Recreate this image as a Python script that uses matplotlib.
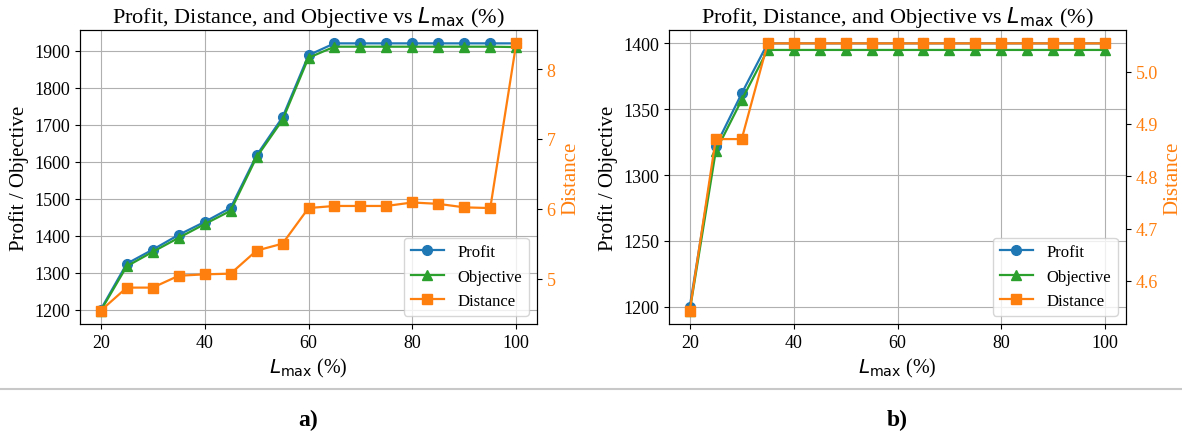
import numpy as np
import matplotlib.pyplot as plt
from matplotlib.lines import Line2D

plt.rcParams['font.family'] = ['Liberation Serif', 'DejaVu Serif']
plt.rcParams['mathtext.fontset'] = 'dejavusans'

L_max = [20, 25, 30, 35, 40, 45, 50, 55, 60, 65, 70, 75, 80, 85, 90, 95, 100]

# case a)
profit_a = [1200, 1324, 1362, 1402, 1437, 1475, 1617, 1720, 1888,
            1920, 1920, 1920, 1920, 1920, 1920, 1920, 1920]
objective_a = [1197, 1317, 1356, 1394, 1431, 1467, 1612, 1713, 1881,
               1911, 1911, 1911, 1911, 1911, 1911, 1911, 1910]
distance_a = [4.54, 4.87, 4.87, 5.04, 5.06, 5.07, 5.40, 5.50, 6.01,
              6.04, 6.04, 6.04, 6.09, 6.07, 6.02, 6.01, 8.37]

# case b)
profit_b = [1200, 1322, 1362, 1400, 1400, 1400, 1400, 1400, 1400,
            1400, 1400, 1400, 1400, 1400, 1400, 1400, 1400]
objective_b = [1197, 1318, 1357, 1395, 1395, 1395, 1395, 1395, 1395,
               1395, 1395, 1395, 1395, 1395, 1395, 1395, 1395]
distance_b = [4.543, 4.871, 4.871, 5.054, 5.054, 5.054, 5.054, 5.054, 5.054,
              5.054, 5.054, 5.054, 5.054, 5.054, 5.054, 5.054, 5.054]

panels = [('a)', profit_a, objective_a, distance_a),
          ('b)', profit_b, objective_b, distance_b)]

fig = plt.figure(figsize=(11.82, 4.39), dpi=100)
lefts = [80 / 1182, 669 / 1182]
W, H = 1182, 439

for (tag, prof, obj, dist), left in zip(panels, lefts):
    ax1 = fig.add_axes([left, (H - 325) / H, 457 / W, 294 / H])
    l1, = ax1.plot(L_max, prof, 'o-', color='tab:blue', lw=1.6, ms=7, label='Profit')
    l2, = ax1.plot(L_max, obj, '^-', color='tab:green', lw=1.6, ms=7, label='Objective')
    ax1.set_xlabel(r'$L_{\max}$ (%)', fontsize=14.5)
    ax1.set_ylabel('Profit / Objective', fontsize=15)
    ax1.set_title(r'Profit, Distance, and Objective vs $L_{\max}$ (%)', fontsize=16)
    ax1.tick_params(labelsize=13)
    ax1.set_xticks([20, 40, 60, 80, 100])
    ax1.grid(True)

    ax2 = ax1.twinx()
    l3, = ax2.plot(L_max, dist, 's-', color='tab:orange', lw=1.6, ms=7, label='Distance')
    ax2.set_ylabel('Distance', color='tab:orange', fontsize=15)
    ax2.tick_params(axis='y', labelcolor='tab:orange', labelsize=13)

    ax2.legend([l1, l2, l3], ['Profit', 'Objective', 'Distance'],
               loc='lower right', fontsize=12)

    fig.text(left + 0.5 * 457 / W, 1 - 420 / H, tag, ha='center', va='center',
             fontsize=17, fontweight='bold')

# divider between the plots and the panel tags
fig.add_artist(Line2D([0, 1], [1 - 390 / H, 1 - 390 / H], color='#c8c8c8', lw=1.5))

fig.savefig('out.png', dpi=100)
